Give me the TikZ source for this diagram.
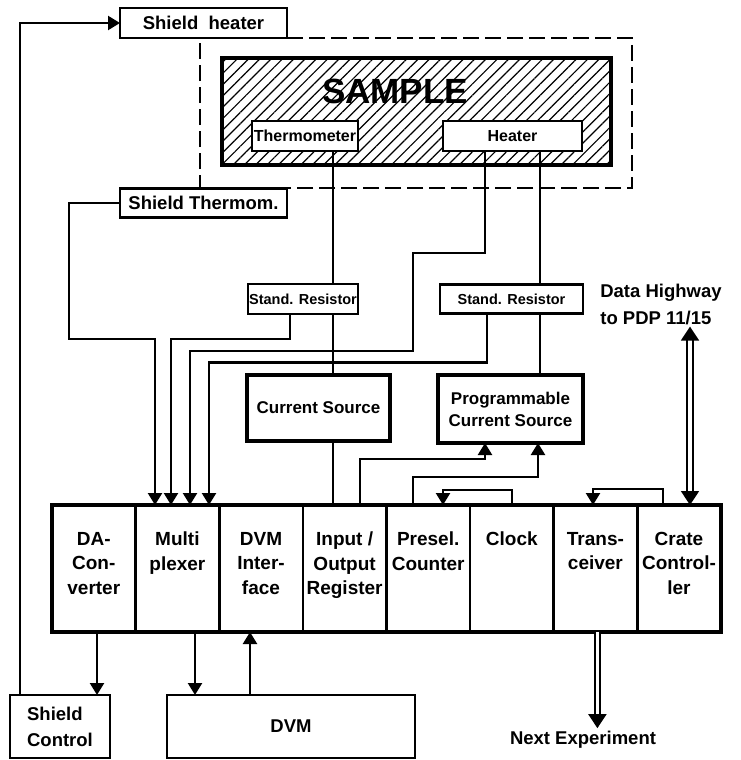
\documentclass[tikz,border=0pt]{standalone}
\usepackage{fontspec}
\setmainfont{Liberation Sans}
\usetikzlibrary{arrows.meta, positioning, fit, patterns.meta}

\begin{document}
\begin{tikzpicture}[
    x=1pt, y=-1pt,
    every node/.style={font=\bfseries\fontsize{18.5}{22}\selectfont},
    box/.style={draw, line width=2.6pt, fill=white, inner sep=0pt, outer sep=0pt},
    smallbox/.style={box, font=\bfseries\fontsize{14.5}{17}\selectfont},
    srcbox/.style={box, line width=4pt, align=center, font=\bfseries\fontsize{17}{22}\selectfont},
    cell/.style={draw, line width=2.6pt, minimum width=83.6pt, minimum height=127pt,
                 inner sep=0pt, outer sep=0pt},
    celltxt/.style={align=center, inner sep=0pt, font=\bfseries\fontsize{19}{24.5}\selectfont},
    shielddash/.style={line width=2.4pt, dash pattern=on 16pt off 6pt},
    wire/.style={line width=2.3pt},
    arr/.style={wire, -{Triangle[length=12pt,width=14pt]}},
    bus/.style={line width=1.8pt, double, double distance=3.6pt},
  ]
  \useasboundingbox (0,0) rectangle (740,760);

  \node[box, minimum width=167pt, minimum height=30pt] (heater) at (203.5,23) {Shield\ \ heater};
  \draw[shielddash] (heater.south east) -| (632,188) -| ([xshift=-3.5pt]heater.south);

  \node[draw, line width=4pt, pattern={Lines[angle=45,distance=8pt,line width=1.2pt]},
        minimum width=389pt, minimum height=107pt, inner sep=0pt] (sample) at (416.5,111.5) {};
  \node[font=\bfseries\fontsize{35}{35}\selectfont] (samplet) at (395,91) {SAMPLE};
  \node[smallbox, minimum width=106pt, minimum height=30pt, font=\bfseries\fontsize{16}{17}\selectfont] (thermo) at (305,136) {Thermometer};
  \node[smallbox, minimum width=139pt, minimum height=30pt, font=\bfseries\fontsize{16}{17}\selectfont] (heatr) at (512.5,136) {Heater};

  \node[box, minimum width=167pt, minimum height=29pt] (shthermo) at (203.5,203) {Shield Thermom.};

  \node[smallbox, minimum width=110pt, minimum height=30pt] (resA) at (303,299) {Stand. Resistor};
  \node[smallbox, minimum width=143pt, minimum height=29pt] (resB) at (511.5,299) {Stand. Resistor};
  \node[srcbox, minimum width=143pt, minimum height=66pt] (csrc) at (318.5,408) {Current Source};
  \node[srcbox, minimum width=145pt, minimum height=68pt] (pcs) at (510.5,409) {Programmable\\Current Source};

  \node[align=left, inner sep=2pt, font=\bfseries\fontsize{18.5}{27}\selectfont] (hwy) at (661,304) {Data Highway\\to PDP 11/15};

  \node[cell] (dac) at (93.8,568.5) {};
  \node[cell, right=0pt of dac] (mux) {};
  \node[cell, right=0pt of mux] (dvmif) {};
  \node[cell, right=0pt of dvmif] (io) {};
  \node[cell, right=0pt of io] (presel) {};
  \node[cell, right=0pt of presel] (clock) {};
  \node[cell, right=0pt of clock] (trx) {};
  \node[cell, right=0pt of trx] (crate) {};
  \node[fit=(dac)(crate), draw, line width=4pt, inner sep=0pt] (crateframe) {};

  \node[celltxt, below=27pt of dac.north] (dact) {DA-\\Con-\\verter};
  \node[celltxt, below=27pt of mux.north] (muxt) {Multi\\plexer};
  \node[celltxt, below=27pt of dvmif.north] (dvmift) {DVM\\Inter-\\face};
  \node[celltxt, below=27pt of io.north] (iot) {Input /\\Output\\Register};
  \node[celltxt, below=27pt of presel.north] (preselt) {Presel.\\Counter};
  \node[celltxt, below=27pt of clock.north] (clockt) {Clock};
  \node[celltxt, below=27pt of trx.north] (trxt) {Trans-\\ceiver};
  \node[celltxt, below=27pt of crate.north] (cratet) {Crate\\Control-\\ler};

  \node[box, minimum width=100pt, minimum height=63pt, align=left,
        font=\bfseries\fontsize{18.5}{26}\selectfont] (shctl) at (60,726.5) {Shield\\Control};
  \node[box, minimum width=248pt, minimum height=63pt] (dvm) at (291,726.5) {DVM};
  \node[inner sep=3pt] (next) at (583,740) {Next Experiment};

  % sample thermometer and heater leads
  \draw[wire] ([xshift=28pt]thermo.south) -- ([xshift=28pt]thermo.south |- resA.north);
  \draw[wire] ([xshift=30pt]resA.south) -- ([xshift=30pt]resA.south |- csrc.north);
  \draw[wire] ([xshift=14.5pt]csrc.south) -- ([xshift=14.5pt]csrc.south |- io.north);
  \draw[wire] ([xshift=27.5pt]heatr.south) -- ([xshift=27.5pt]heatr.south |- resB.north);
  \draw[wire] ([xshift=28.5pt]resB.south) -- ([xshift=28.5pt]resB.south |- pcs.north);

  % multiplexer inputs
  \draw[arr] (shthermo.west) -| (69,339) -| ([xshift=-22.4pt]mux.north);
  \draw[arr] ([xshift=-13pt]resA.south) -- ++(0,25) -| ([xshift=-6.4pt]mux.north);
  \draw[arr] ([xshift=-27.5pt]heatr.south) -- ++(0,102) -| (413,351) -| ([xshift=12.6pt]mux.north);
  \draw[arr] ([xshift=-24.5pt]resB.south) -- ++(0,49) -| ([xshift=31.6pt]mux.north);

  % crate internal links
  \draw[arr] ([xshift=15.4pt]io.north) -- ++(0,-46) -| ([xshift=-25.5pt]pcs.south);
  \draw[arr] ([xshift=-15.2pt]presel.north) -- ++(0,-28) -| ([xshift=27.5pt]pcs.south);
  \draw[arr] (clock.north) -- ++(0,-15) -| ([xshift=14.8pt]presel.north);
  \draw[arr] ([xshift=-16pt]crate.north) -- ++(0,-16) -| ([xshift=-2.4pt]trx.north);

  % shield control loop and DVM
  \draw[arr] ([xshift=3.2pt]dac.south) -- ([xshift=3.2pt]dac.south |- shctl.north);
  \draw[arr] ([xshift=10pt]shctl.north west) |- (heater.west);
  \draw[arr] ([xshift=17.6pt]mux.south) -- ([xshift=17.6pt]mux.south |- dvm.north);
  \draw[arr] ([xshift=-41pt]dvm.north) -- ([xshift=-41pt]dvm.north |- dvmif.south);

  % data highways
  \draw[bus, {Triangle[length=14pt,width=18pt]}-{Triangle[length=14pt,width=18pt]}]
    ([xshift=11pt]crate.north) -- ([xshift=11pt]crate.north |- hwy.south);
  \draw[bus, -{Triangle[length=14pt,width=18pt]}] ([xshift=2pt]trx.south) -- ([xshift=2pt]trx.south |- next.north);
\end{tikzpicture}
\end{document}
